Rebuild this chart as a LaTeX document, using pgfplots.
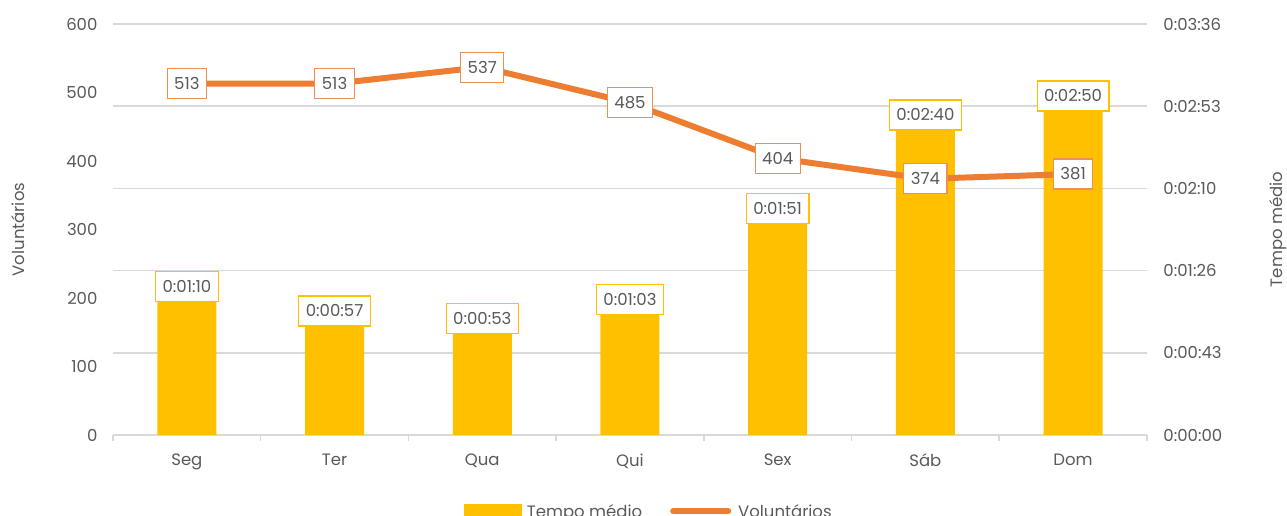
\documentclass[border=0pt]{standalone}
\usepackage{pgfplots}
\pgfplotsset{compat=1.18}
\usepackage{pgfplotstable}
\usepackage{fontspec}
\setmainfont{Poppins}
\definecolor{barc}{HTML}{FFC000}
\definecolor{lnc}{HTML}{ED7D31}
\definecolor{txt}{HTML}{595959}
\definecolor{grd}{HTML}{D9D9D9}

\pgfplotstableread{
x t lbl
0 70 0:01:10
1 57 0:00:57
2 53 0:00:53
3 63 0:01:03
4 111 0:01:51
5 160 0:02:40
6 170 0:02:50
}\bars

\pgfplotstableread{
x v lbl
0 513 513
1 513 513
2 537 537
3 485 485
4 404 404
5 374 374
6 381 381
}\vol

\begin{document}
\begin{tikzpicture}[x=1pt,y=1pt]
\useasboundingbox (0,0) rectangle (1287,-516);
\begin{axis}[
  at={(113pt,-435pt)}, anchor=south west,
  scale only axis, width=1034pt, height=411pt,
  xmin=-0.5, xmax=6.5, ymin=0, ymax=216,
  axis x line*=bottom, axis y line*=right,
  x axis line style={draw=grd, line width=1.5pt},
  y axis line style={draw=none},
  xtick={0,...,6}, xticklabels={Seg,Ter,Qua,Qui,Sex,Sáb,Dom},
  minor xtick={-0.5,0.5,...,6.5},
  major tick length=0pt, minor tick length=6pt, tick align=outside,
  minor tick style={draw=grd, line width=1.5pt},
  ytick={0,43.2,86.4,129.6,172.8,216},
  yticklabels={0:00:00,0:00:43,0:01:26,0:02:10,0:02:53,0:03:36},
  ymajorgrids, grid style={draw=grd, line width=1.5pt},
  tick label style={font=\fontsize{16.5}{19}\selectfont, text=txt},
  xticklabel style={yshift=-15pt},
  yticklabel style={xshift=13pt},
  ylabel={Tempo médio},
  ylabel style={font=\fontsize{16.5}{19}\selectfont, text=txt, at={(axis description cs:1.1267,0.5)}, anchor=center},
  clip=false,
]
\addplot[ybar, bar width=59pt, fill=barc, draw=none,
  nodes near coords, point meta=explicit symbolic,
  nodes near coords style={anchor=south, draw=barc, line width=1.2pt, fill=white, text=txt,
    font=\fontsize{16.5}{19}\selectfont, inner xsep=7pt, minimum height=30pt, inner ysep=0pt, yshift=0pt}]
  table[x=x, y=t, meta=lbl]{\bars};
\end{axis}
\begin{axis}[
  at={(113pt,-435pt)}, anchor=south west,
  scale only axis, width=1034pt, height=411pt,
  xmin=-0.5, xmax=6.5, ymin=0, ymax=600,
  axis x line=none, axis y line*=left,
  y axis line style={draw=none},
  ytick={0,100,...,600},
  major tick length=0pt,
  /pgf/number format/assume math mode=true,
  tick label style={font=\fontsize{16.5}{19}\selectfont, text=txt},
  yticklabel style={xshift=-12pt},
  ylabel={Voluntários},
  ylabel style={font=\fontsize{16.5}{19}\selectfont, text=txt, at={(axis description cs:-0.0919,0.5)}, anchor=center},
  clip=false,
  legend style={at={(axis description cs:0.518,-0.158)}, anchor=north, draw=none, fill=none,
    font=\fontsize{16.5}{19}\selectfont, text=txt, legend columns=2,
    /tikz/every even column/.append style={column sep=26pt}},
  legend cell align=left,
]
\addlegendimage{legend image code/.code={\fill[barc] (0pt,-7pt) rectangle (57pt,7pt); \path (61pt,0pt);}}
\addlegendentry{Tempo médio}
\addplot[lnc, line width=6pt, mark=none,
  legend image code/.code={\draw[lnc, line width=6pt, line cap=round] (3pt,0pt) -- (58pt,0pt); \path (63pt,0pt);},
  nodes near coords, point meta=explicit symbolic,
  nodes near coords style={anchor=center, draw=lnc!85!white, line width=1.2pt, fill=white, text=txt,
    font=\fontsize{16.5}{19}\selectfont, inner xsep=7pt, minimum height=30pt, inner ysep=0pt}]
  table[x=x, y=v, meta=lbl]{\vol};
\addlegendentry{Voluntários}
\end{axis}
\end{tikzpicture}
\end{document}
